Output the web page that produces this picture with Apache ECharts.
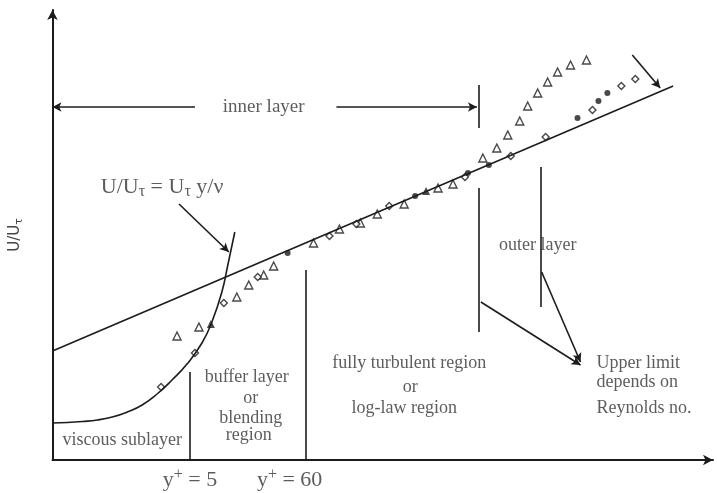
<!DOCTYPE html>
<html>
<head>
<meta charset="utf-8">
<script src="https://cdn.jsdelivr.net/npm/echarts@6/dist/echarts.min.js"></script>
<style>
  html, body { margin: 0; padding: 0; background: #fff; }
  #chart { width: 717px; height: 493px; }
</style>
</head>
<body>
<div id="chart"></div>
<script>
// values, in plot units (x to the right, y upward from the axis corner)
const logLaw = [[0, 109], [623, 374]]
const viscousCurve = [[0, 37], [15, 37.5], [30, 38.5], [45, 40], [60, 43], [75, 48], [90, 55],
  [105, 66], [120, 80], [135, 96], [150, 117], [160, 138], [170, 168], [176, 195], [183, 228]]

const openTriangles = [[125, 124], [147, 133], [185, 163], [197, 175], [212, 185], [222, 194],
  [262, 217], [288, 231], [309, 237], [326, 246], [353, 256], [387, 272], [402, 276],
  [432, 302], [446, 312], [457, 325], [469, 339], [477, 354], [487, 367], [497, 378],
  [507, 388], [520, 395], [536, 400]]
const filledTriangles = [[159, 136], [375, 269]]
const openDiamonds = [[109, 73], [143, 107], [172, 157], [206, 183], [278, 224], [305, 236],
  [338, 254], [414, 283], [460, 304], [495, 323], [542, 350], [571, 374], [585, 381]]
const filledDots = [[236, 207], [364, 264], [417, 287], [438, 295], [527, 342], [548, 359], [557, 367]]

// region boundaries and pointers
const plainSegments = [
  [[138, 0], [138, 88]],
  [[254, 0], [254, 190]],
  [[428, 128], [428, 272]],
  [[490, 153], [490, 293]],
  [[428, 332], [428, 375]]
]
const arrowSegments = [
  [[143, 353], [0, 353]],
  [[285, 353], [426, 353]],
  [[127, 256], [177, 208]],
  [[430, 158], [530, 95]],
  [[491, 188], [530, 98]],
  [[582, 405], [610, 372]]
]

// annotations: text and where they sit
const notes = [
  ['{b|inner layer}', [212, 353]],
  ['{a|U/U}{s|τ}{a| = U}{s|τ}{a| y/ν}', [110, 273]],
  ['outer layer', [487, 215]],
  ['fully turbulent region', [358, 97]],
  ['or', [359, 73]],
  ['log-law region', [353, 52]],
  ['buffer layer', [195, 83]],
  ['or', [199, 62]],
  ['blending', [199, 42]],
  ['region', [197, 25]],
  ['viscous sublayer', [70, 20]],
  ['{a|y}{p|+}{a| = 5}', [138, -20]],
  ['{a|y}{p|+}{a| = 60}', [238, -20]]
]
const sideNotes = [
  ['Upper limit', [546, 97]],
  ['depends on', [546, 78]],
  ['Reynolds no.', [546, 52]]
]

const ink = '#1c1c1c'
const serif = 'Liberation Serif'

const chart = echarts.init(document.getElementById('chart'))

const segLine = (segs, symbols) => ({
  type: 'line',
  data: [],
  silent: true,
  markLine: {
    silent: true,
    animation: false,
    symbol: symbols,
    symbolSize: [7, 9],
    label: { show: false },
    lineStyle: { color: ink, width: 1.6, type: 'solid' },
    emphasis: { disabled: true },
    data: segs.map(s => [{ coord: s[0] }, { coord: s[1] }])
  }
})

const noteSeries = (list, align) => ({
  type: 'scatter',
  silent: true,
  clip: false,
  symbolSize: 0,
  data: list.map(n => ({ value: n[1], name: n[0] })),
  label: {
    show: true,
    position: 'inside',
    align: align,
    formatter: p => p.name,
    color: '#333',
    fontFamily: serif,
    fontSize: 18,
    rich: {
      a: { fontFamily: serif, fontSize: 22, color: '#333' },
      b: { fontFamily: serif, fontSize: 19, color: '#333' },
      s: { fontFamily: serif, fontSize: 16, color: '#333', padding: [10, 0, 0, 0] },
      p: { fontFamily: serif, fontSize: 16, color: '#333', padding: [0, 0, 10, 0] }
    }
  }
})

const option = {
  animation: false,
  backgroundColor: '#fff',
  grid: { left: 50, right: 4, top: 10, bottom: 33 },
  xAxis: {
    type: 'value',
    min: 0,
    max: 663,
    axisLine: { lineStyle: { color: ink, width: 2 }, symbol: ['none', 'arrow'], symbolSize: [8, 10] },
    axisTick: { show: false },
    axisLabel: { show: false },
    splitLine: { show: false }
  },
  yAxis: {
    type: 'value',
    min: 0,
    max: 450,
    name: '{n|U/U}{t|τ}',
    nameLocation: 'middle',
    nameRotate: 90,
    nameGap: 28,
    nameTextStyle: {
      rich: {
        n: { fontFamily: 'DejaVu Sans', fontSize: 15, color: '#444' },
        t: { fontFamily: 'DejaVu Sans', fontSize: 11, color: '#444', padding: [7, 0, 0, 0] }
      }
    },
    axisLine: { lineStyle: { color: ink, width: 2 }, symbol: ['none', 'arrow'], symbolSize: [8, 10] },
    axisTick: { show: false },
    axisLabel: { show: false },
    splitLine: { show: false }
  },
  series: [
    {
      name: 'log law',
      type: 'line',
      data: logLaw,
      symbol: 'none',
      lineStyle: { color: ink, width: 1.6 }
    },
    {
      name: 'viscous sublayer',
      type: 'line',
      data: viscousCurve,
      smooth: 0.5,
      symbol: 'none',
      lineStyle: { color: ink, width: 1.6 }
    },
    {
      name: 'triangles',
      type: 'scatter',
      data: openTriangles,
      symbol: 'triangle',
      symbolSize: 8,
      itemStyle: { color: '#fff', borderColor: ink, borderWidth: 1.4 }
    },
    {
      name: 'filled triangles',
      type: 'scatter',
      data: filledTriangles,
      symbol: 'triangle',
      symbolSize: 8,
      itemStyle: { color: ink }
    },
    {
      name: 'diamonds',
      type: 'scatter',
      data: openDiamonds,
      symbol: 'diamond',
      symbolSize: 7,
      itemStyle: { color: '#fff', borderColor: ink, borderWidth: 1.4 }
    },
    {
      name: 'dots',
      type: 'scatter',
      data: filledDots,
      symbol: 'circle',
      symbolSize: 6,
      itemStyle: { color: ink }
    },
    segLine(plainSegments, ['none', 'none']),
    segLine(arrowSegments, ['none', 'arrow']),
    noteSeries(notes, 'center'),
    noteSeries(sideNotes, 'left')
  ]
}

chart.setOption(option)
</script>
</body>
</html>
